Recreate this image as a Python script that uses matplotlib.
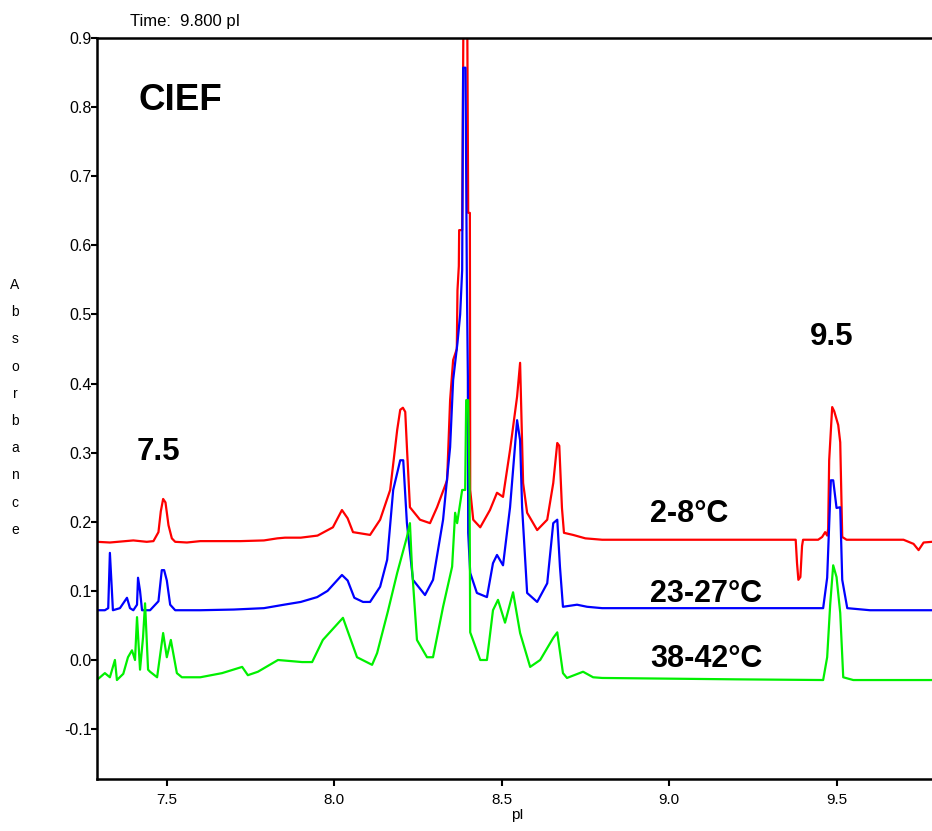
import matplotlib
matplotlib.use("Agg")
import matplotlib.pyplot as plt

# ---------------- data (pI vs absorbance) ----------------
red_pI = [7.291, 7.33, 7.40, 7.44, 7.46, 7.475, 7.482, 7.489, 7.496, 7.505, 7.515, 7.525,
          7.56, 7.60, 7.66, 7.72, 7.79, 7.83, 7.853, 7.90, 7.95, 7.996, 8.023, 8.04, 8.056,
          8.107, 8.137, 8.167, 8.188, 8.197, 8.205, 8.212, 8.217, 8.226, 8.256, 8.286, 8.307,
          8.337, 8.346, 8.355, 8.366, 8.368, 8.372, 8.373, 8.382, 8.386, 8.397, 8.400, 8.405,
          8.406, 8.415, 8.436, 8.465, 8.486, 8.504, 8.525, 8.546, 8.555, 8.564, 8.576, 8.606,
          8.636, 8.654, 8.666, 8.672, 8.680, 8.686, 8.713, 8.75, 8.80, 9.00, 9.20, 9.378,
          9.382, 9.386, 9.392, 9.397, 9.40, 9.445, 9.457, 9.466, 9.472, 9.475, 9.478, 9.487,
          9.493, 9.505, 9.511, 9.517, 9.53, 9.70, 9.73, 9.745, 9.76, 9.785]
red_abs = [0.171, 0.170, 0.173, 0.171, 0.172, 0.185, 0.215, 0.233, 0.228, 0.195, 0.176, 0.171,
           0.170, 0.172, 0.172, 0.172, 0.173, 0.176, 0.177, 0.177, 0.180, 0.192, 0.217, 0.205, 0.185,
           0.181, 0.203, 0.246, 0.333, 0.362, 0.365, 0.359, 0.308, 0.221, 0.203, 0.198, 0.221,
           0.260, 0.376, 0.434, 0.450, 0.535, 0.570, 0.622, 0.622, 0.950, 0.950, 0.647, 0.647,
           0.246, 0.203, 0.192, 0.217, 0.242, 0.236, 0.304, 0.381, 0.430, 0.256, 0.213, 0.188,
           0.203, 0.256, 0.314, 0.310, 0.220, 0.184, 0.181, 0.176, 0.174, 0.174, 0.174, 0.174,
           0.140, 0.116, 0.120, 0.165, 0.174, 0.174, 0.178, 0.185, 0.180, 0.190, 0.289, 0.366,
           0.360, 0.340, 0.315, 0.178, 0.174, 0.174, 0.168, 0.159, 0.170, 0.171]

blue_pI = [7.291, 7.315, 7.325, 7.330, 7.336, 7.339, 7.36, 7.381, 7.39, 7.40, 7.411, 7.414,
           7.42, 7.426, 7.45, 7.475, 7.485, 7.492, 7.50, 7.51, 7.525, 7.60, 7.70, 7.79, 7.85,
           7.90, 7.949, 7.98, 8.023, 8.04, 8.06, 8.086, 8.107, 8.137, 8.158, 8.176, 8.197,
           8.206, 8.217, 8.235, 8.271, 8.295, 8.325, 8.346, 8.355, 8.368, 8.376, 8.382, 8.385,
           8.392, 8.396, 8.399, 8.400, 8.406, 8.426, 8.456, 8.474, 8.486, 8.504, 8.525, 8.546,
           8.555, 8.561, 8.576, 8.606, 8.636, 8.654, 8.666, 8.674, 8.683, 8.725, 8.755, 8.80,
           9.00, 9.20, 9.46, 9.472, 9.483, 9.49, 9.50, 9.511, 9.517, 9.532, 9.60, 9.785]
blue_abs = [0.072, 0.072, 0.075, 0.155, 0.100, 0.072, 0.075, 0.090, 0.075, 0.072, 0.080, 0.119,
            0.100, 0.072, 0.072, 0.085, 0.130, 0.130, 0.115, 0.080, 0.072, 0.072, 0.073, 0.075, 0.080,
            0.084, 0.091, 0.100, 0.123, 0.115, 0.090, 0.084, 0.084, 0.106, 0.145, 0.246, 0.289,
            0.289, 0.198, 0.116, 0.094, 0.116, 0.203, 0.308, 0.405, 0.459, 0.500, 0.564, 0.857,
            0.857, 0.550, 0.410, 0.184, 0.126, 0.097, 0.091, 0.140, 0.152, 0.137, 0.221, 0.347,
            0.318, 0.221, 0.097, 0.084, 0.111, 0.198, 0.203, 0.135, 0.077, 0.080, 0.077, 0.075,
            0.075, 0.075, 0.075, 0.119, 0.260, 0.260, 0.220, 0.221, 0.116, 0.075, 0.072, 0.072]

green_pI = [7.291, 7.315, 7.33, 7.345, 7.351, 7.37, 7.384, 7.396, 7.405, 7.411, 7.42, 7.429,
            7.435, 7.444, 7.45, 7.471, 7.489, 7.50, 7.512, 7.53, 7.545, 7.60, 7.665, 7.725,
            7.742, 7.772, 7.832, 7.904, 7.934, 7.966, 8.026, 8.068, 8.113, 8.128, 8.16, 8.188,
            8.217, 8.226, 8.232, 8.247, 8.277, 8.295, 8.325, 8.352, 8.361, 8.367, 8.382, 8.391,
            8.394, 8.400, 8.404, 8.406, 8.436, 8.456, 8.474, 8.489, 8.51, 8.534, 8.555, 8.585,
            8.615, 8.654, 8.666, 8.683, 8.695, 8.743, 8.773, 8.80, 9.00, 9.20, 9.46, 9.472,
            9.481, 9.49, 9.50, 9.511, 9.52, 9.55, 9.785]
green_abs = [-0.029, -0.019, -0.025, 0.000, -0.029, -0.020, 0.004, 0.014, 0.000, 0.062, -0.014, 0.033,
             0.082, -0.014, -0.017, -0.025, 0.039, 0.004, 0.029, -0.019, -0.025, -0.025, -0.019, -0.010,
             -0.022, -0.017, 0.000, -0.003, -0.003, 0.029, 0.061, 0.004, -0.007, 0.010, 0.070, 0.126,
             0.178, 0.198, 0.135, 0.029, 0.004, 0.004, 0.077, 0.135, 0.213, 0.198, 0.246, 0.246,
             0.376, 0.376, 0.250, 0.040, 0.000, 0.000, 0.072, 0.087, 0.054, 0.098, 0.039, -0.010,
             0.000, 0.032, 0.040, -0.019, -0.026, -0.017, -0.025, -0.026, -0.027, -0.028, -0.029, 0.004,
             0.080, 0.137, 0.120, 0.068, -0.025, -0.029, -0.029]

series_labels = ["2-8°C", "23-27°C", "38-42°C"]
label_pI = [8.944, 8.944, 8.944]
label_abs = [0.200, 0.084, -0.010]
peak_labels = ["7.5", "9.5"]
peak_label_pI = [7.411, 9.421]
peak_label_abs = [0.289, 0.456]
title_text = "CIEF"
y_ticks = [-0.1, 0.0, 0.1, 0.2, 0.3, 0.4, 0.5, 0.6, 0.7, 0.8, 0.9]
y_ticklabels = ["-0.1", "0.0", "0.1", "0.2", "0.3", "0.4", "0.5", "0.6", "0.7", "0.8", "0.9"]
x_ticks = [7.5, 8.0, 8.5, 9.0, 9.5]
x_ticklabels = ["7.5", "8.0", "8.5", "9.0", "9.5"]

# ---------------- figure ----------------
W, H = 932, 831
fig = plt.figure(figsize=(W / 100, H / 100), dpi=100)
plt.rcParams['font.family'] = ['Liberation Sans', 'DejaVu Sans']

ax = fig.add_axes([97 / W, (H - 779) / H, (937 - 97) / W, (779 - 38) / H])
ax.set_xlim(7.2915, 9.8)
ax.set_ylim(-0.1722, 0.9)

ax.plot(red_pI, red_abs, color="#ff0000", lw=1.6)
ax.plot(blue_pI, blue_abs, color="#0000ff", lw=1.6)
ax.plot(green_pI, green_abs, color="#00f000", lw=1.6)

for s in ["top", "left", "bottom"]:
    ax.spines[s].set_linewidth(1.8)
    ax.spines[s].set_color("black")
ax.spines["right"].set_visible(False)

ax.set_yticks(y_ticks)
ax.set_yticklabels(y_ticklabels)
ax.set_xticks(x_ticks)
ax.set_xticklabels(x_ticklabels)
ax.tick_params(axis="y", direction="out", length=4, width=1.5, pad=0, labelsize=11.5)
ax.tick_params(axis="x", direction="out", length=5, width=1.5, pad=5, labelsize=11)

ax.set_xlabel("pI", fontsize=11, labelpad=1)

# annotations
ax.text(7.414, 0.796, title_text, fontsize=26.5, fontweight="bold", ha="left", va="baseline")
for t, xx, yy in zip(peak_labels, peak_label_pI, peak_label_abs):
    ax.text(xx, yy, t, fontsize=22.5, fontweight="bold", ha="left", va="baseline")
for t, xx, yy in zip(series_labels, label_pI, label_abs):
    ax.text(xx, yy, t, fontsize=22, fontweight="bold", ha="left", va="baseline")

# header
fig.text(130 / W, 1 - 26 / H, "Time:  9.800 pI", fontsize=12, ha="left", va="baseline")

# stacked vertical y label
for i, ch in enumerate("Absorbance"):
    fig.text(15 / W, 1 - (285 + i * 27.2) / H, ch, fontsize=10, ha="center", va="center")

fig.savefig("out.png", dpi=100)
